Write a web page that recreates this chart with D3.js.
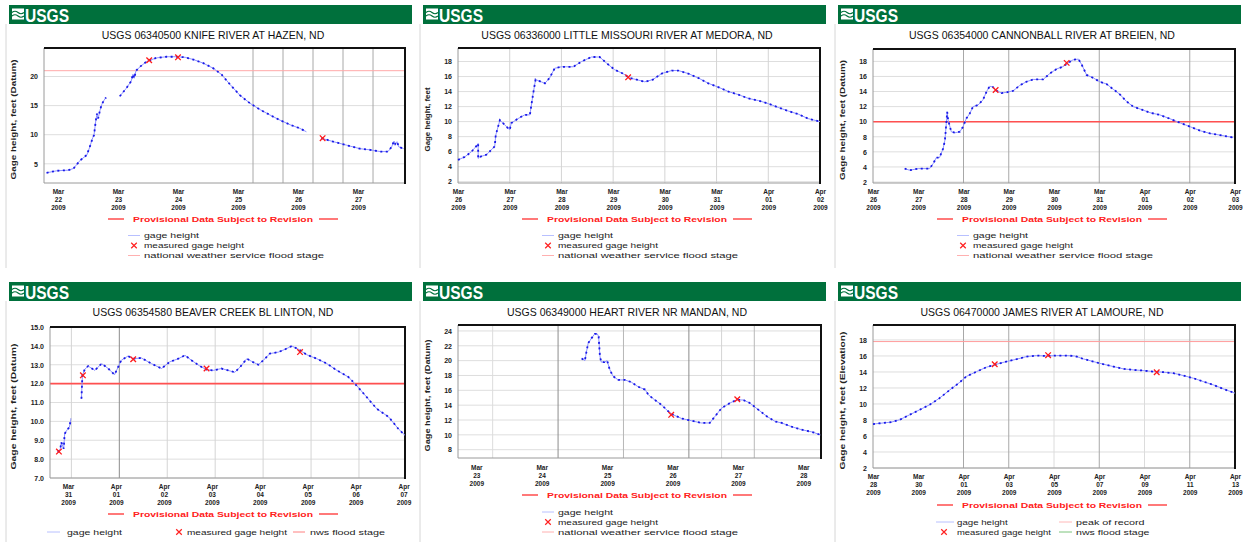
<!DOCTYPE html>
<html>
<head>
<meta charset="utf-8">
<script src="https://cdn.jsdelivr.net/npm/d3@7"></script>
<style>
  body { margin: 0; background: #fff; }
  svg { display: block; font-family: "Liberation Sans", Arial, sans-serif; }
</style>
</head>
<body>
<svg id="chart" width="1243" height="542"></svg>
<script>
// ---- data (x in tick intervals from the first date label, y in feet) ----
const knifeTicks = ["Mar 22 2009", "Mar 23 2009", "Mar 24 2009", "Mar 25 2009", "Mar 26 2009", "Mar 27 2009"];
const knifeGage = [[-0.19, 3.45], [-0.02, 3.8], [0.17, 3.9], [0.26, 4.2], [0.37, 5.6], [0.48, 6.5], [0.53, 7.9],
  [0.58, 9.5], [0.6, 9.9], [0.63, 12.4], [0.65, 13.6], [0.67, 12.8], [0.7, 14.2], [0.73, 15.2], [0.76, 15.8], [0.8, 16.4],
  null,
  [1.03, 16.6], [1.14, 18.0], [1.22, 19.2], [1.25, 20.4], [1.27, 19.7], [1.3, 21.0], [1.37, 21.7], [1.48, 22.6],
  [1.64, 23.2], [1.81, 23.4], [1.98, 23.4], [2.12, 23.3], [2.26, 22.9], [2.42, 22.3], [2.59, 21.4], [2.73, 20.3],
  [2.87, 18.6], [3.03, 16.8], [3.2, 15.4], [3.37, 14.3], [3.53, 13.4], [3.7, 12.5], [3.87, 11.7], [4.03, 11.1], [4.14, 10.5],
  null,
  [4.39, 9.4], [4.59, 8.8], [4.81, 8.2], [5.03, 7.6], [5.2, 7.4], [5.37, 7.1], [5.5, 7.1], [5.56, 7.9], [5.6, 8.9],
  [5.62, 8.4], [5.65, 8.8], [5.68, 7.9], [5.76, 7.6]];
const knifeMeas = [[1.52, 22.8], [2.0, 23.3], [4.41, 9.4]];

const medoraTicks = ["Mar 26 2009", "Mar 27 2009", "Mar 28 2009", "Mar 29 2009", "Mar 30 2009", "Mar 31 2009", "Apr 01 2009", "Apr 02 2009"];
const medoraGage = [[0, 4.9], [0.13, 5.3], [0.26, 6.0], [0.35, 6.7], [0.39, 7.1], [0.39, 5.1], [0.42, 5.3], [0.55, 5.6],
  [0.71, 6.7], [0.73, 8.2], [0.81, 10.2], [0.9, 9.6], [1.0, 8.9], [1.03, 9.8], [1.16, 10.4], [1.29, 10.9], [1.39, 10.9],
  [1.45, 13.6], [1.5, 15.6], [1.61, 15.3], [1.68, 15.1], [1.77, 15.8], [1.87, 17.1], [2.0, 17.3], [2.23, 17.3], [2.39, 18.0],
  [2.58, 18.6], [2.74, 18.6], [2.87, 17.8], [3.03, 16.9], [3.19, 16.4], [3.32, 15.8], [3.45, 15.6], [3.61, 15.3], [3.77, 15.6],
  [3.94, 16.4], [4.13, 16.8], [4.26, 16.8], [4.45, 16.4], [4.65, 15.8], [4.84, 15.1], [5.03, 14.6], [5.23, 14.0], [5.42, 13.6],
  [5.61, 13.1], [5.81, 12.8], [6.0, 12.4], [6.19, 11.9], [6.39, 11.4], [6.58, 11.0], [6.77, 10.4], [7.0, 10.0]];
const medoraMeas = [[3.29, 15.9]];

const cannonTicks = ["Mar 26 2009", "Mar 27 2009", "Mar 28 2009", "Mar 29 2009", "Mar 30 2009", "Mar 31 2009", "Apr 01 2009", "Apr 02 2009", "Apr 03 2009"];
const cannonGage = [[0.7, 3.78], [0.81, 3.56], [1.0, 3.78], [1.25, 3.78], [1.33, 4.44], [1.4, 5.24], [1.47, 5.24], [1.55, 6.44],
  [1.59, 7.56], [1.62, 9.78], [1.64, 11.3], [1.66, 10.2], [1.68, 9.78], [1.73, 8.67], [1.81, 8.53], [1.92, 8.67], [1.99, 9.33],
  [2.06, 10.4], [2.14, 11.1], [2.21, 12.0], [2.32, 12.2], [2.43, 12.9], [2.51, 14.0], [2.58, 14.7], [2.65, 14.6], [2.73, 14.1],
  [2.84, 13.8], [2.95, 13.9], [3.1, 14.1], [3.24, 14.8], [3.39, 15.3], [3.54, 15.6], [3.76, 15.6], [3.91, 16.4], [4.06, 17.0],
  [4.2, 17.3], [4.31, 17.8], [4.42, 18.2], [4.54, 18.3], [4.61, 17.6], [4.72, 16.2], [4.87, 15.8], [5.01, 15.3], [5.16, 15.0],
  [5.31, 14.3], [5.46, 13.6], [5.6, 12.7], [5.75, 12.0], [5.94, 11.6], [6.12, 11.2], [6.34, 10.9], [6.56, 10.4], [6.78, 9.87],
  [7.01, 9.33], [7.23, 8.8], [7.45, 8.44], [7.67, 8.22], [7.96, 7.9]];
const cannonMeas = [[2.71, 14.2], [4.28, 17.8]];

const beaverTicks = ["Mar 31 2009", "Apr 01 2009", "Apr 02 2009", "Apr 03 2009", "Apr 04 2009", "Apr 05 2009", "Apr 06 2009", "Apr 07 2009"];
const beaverGage = [[-0.21, 8.37], [-0.16, 8.55], [-0.14, 8.9], [-0.09, 8.55], [-0.07, 9.35], [-0.01, 9.58], [0.03, 9.7], [0.06, 10.14],
  null,
  [0.28, 11.2], [0.3, 12.44], [0.35, 12.76], [0.42, 12.93], [0.56, 12.7], [0.7, 13.06], [0.84, 12.8], [0.97, 12.47], [1.11, 13.23],
  [1.25, 13.46], [1.36, 13.32], [1.53, 13.36], [1.74, 13.06], [1.95, 12.8], [2.12, 13.15], [2.3, 13.32], [2.44, 13.5], [2.58, 13.23],
  [2.75, 12.93], [2.89, 12.74], [3.03, 12.7], [3.2, 12.8], [3.34, 12.7], [3.48, 12.6], [3.59, 12.88], [3.73, 13.32], [3.83, 13.18],
  [3.97, 13.0], [4.11, 13.32], [4.21, 13.59], [4.39, 13.67], [4.53, 13.82], [4.67, 13.99], [4.81, 13.82], [4.98, 13.53], [5.19, 13.32],
  [5.4, 13.06], [5.61, 12.7], [5.85, 12.35], [6.02, 11.9], [6.23, 11.29], [6.44, 10.67], [6.69, 10.23], [6.89, 9.61], [7.03, 9.26]];
const beaverMeas = [[-0.19, 8.4], [0.31, 12.44], [1.36, 13.29], [2.89, 12.8], [4.84, 13.67]];

const heartTicks = ["Mar 23 2009", "Mar 24 2009", "Mar 25 2009", "Mar 26 2009", "Mar 27 2009", "Mar 28 2009"];
const heartGage = [[1.61, 20.3], [1.66, 20.0], [1.68, 21.0], [1.71, 22.35], [1.73, 22.6], [1.76, 23.0], [1.81, 23.6], [1.85, 23.6],
  [1.87, 23.25], [1.89, 20.6], [1.91, 19.8], [1.96, 19.8], [2.0, 20.0], [2.04, 18.8], [2.09, 17.9], [2.17, 17.4], [2.27, 17.4],
  [2.37, 17.1], [2.47, 16.5], [2.58, 16.1], [2.63, 15.4], [2.73, 14.7], [2.83, 14.05], [2.93, 13.2], [3.01, 12.7], [3.14, 12.2],
  [3.29, 11.9], [3.44, 11.6], [3.57, 11.6], [3.65, 12.5], [3.75, 13.6], [3.88, 14.3], [3.98, 14.7], [4.08, 14.7], [4.18, 14.3],
  [4.31, 13.4], [4.44, 12.5], [4.57, 11.8], [4.67, 11.6], [4.82, 11.1], [4.97, 10.7], [5.13, 10.4], [5.26, 10.0]];
const heartMeas = [[2.98, 12.7], [3.99, 14.8]];

const jamesTicks = ["Mar 28 2009", "Mar 30 2009", "Apr 01 2009", "Apr 03 2009", "Apr 05 2009", "Apr 07 2009", "Apr 09 2009", "Apr 11 2009", "Apr 13 2009"];
const jamesGage = [[0, 7.49], [0.41, 7.74], [0.59, 8.03], [0.81, 8.65], [1.03, 9.27], [1.25, 9.9], [1.47, 10.73], [1.7, 11.77],
  [1.92, 12.72], [2.06, 13.43], [2.29, 14.05], [2.51, 14.6], [2.73, 14.97], [2.95, 15.3], [3.17, 15.59], [3.39, 15.92], [3.61, 16.05],
  [3.83, 16.0], [4.06, 16.05], [4.28, 16.05], [4.46, 16.0], [4.65, 15.63], [4.87, 15.3], [5.09, 14.97], [5.31, 14.68], [5.53, 14.39],
  [5.75, 14.26], [5.97, 14.18], [6.19, 14.05], [6.42, 13.97], [6.64, 13.85], [6.86, 13.55], [7.08, 13.22], [7.3, 12.8], [7.52, 12.39],
  [7.74, 11.89], [8.0, 11.35]];
const jamesMeas = [[2.69, 14.97], [3.87, 16.1], [6.27, 13.97]];

// ---- layout ----
const panels = [
  { x0: 0, y0: 0, title: "USGS 06340500 KNIFE RIVER AT HAZEN, ND", ylab: "Gage height, feet (Datum)", ylabLen: 120,
    ticks: knifeTicks, gage: knifeGage, meas: knifeMeas,
    plot: { l: 44, r: 405, t: 48, b: 183 }, xDom: [-0.233, 5.783], yDom: [1.7, 24.9], yTicks: [5, 10, 15, 20], yFmt: "d",
    vGrid: [[3.25, "#a8a8a8"], [3.75, "#a8a8a8"], [4.25, "#a8a8a8"], [4.75, "#a8a8a8"], [5.25, "#a8a8a8"]],
    hLines: [[21, "#ffa8a8", 1]], xlabY: 192, provY: 219, legend: "stack", legY: 235.5 },
  { x0: 414, y0: 0, title: "USGS 06336000 LITTLE MISSOURI RIVER AT MEDORA, ND", ylab: "Gage height, feet", ylabLen: 64,
    ticks: medoraTicks, gage: medoraGage, meas: medoraMeas,
    plot: { l: 44, r: 406, t: 48, b: 183 }, xDom: [0, 7], yDom: [1.83, 19.8], yTicks: d3.range(2, 19, 2), yFmt: "d",
    vGrid: [1, 2, 3, 4, 5, 6].map(d => [d, "#d4d4d4"]),
    hLines: [], xlabY: 192, provY: 219, legend: "stack", legY: 235.5 },
  { x0: 829, y0: 0, title: "USGS 06354000 CANNONBALL RIVER AT BREIEN, ND", ylab: "Gage height, feet (Datum)", ylabLen: 120,
    ticks: cannonTicks, gage: cannonGage, meas: cannonMeas,
    plot: { l: 44, r: 406, t: 49, b: 183 }, xDom: [0, 8], yDom: [1.87, 19.64], yTicks: d3.range(2, 19, 2), yFmt: "d",
    vGrid: [[2, "#a8a8a8"], [3, "#a8a8a8"], [5, "#a8a8a8"], [7, "#a8a8a8"]],
    hLines: [[10, "#ff5050", 1.6]], xlabY: 192, provY: 219, legend: "stack", legY: 235.5 },
  { x0: 0, y0: 277, title: "USGS 06354580 BEAVER CREEK BL LINTON, ND", ylab: "Gage height, feet (Datum)", ylabLen: 126,
    ticks: beaverTicks, gage: beaverGage, meas: beaverMeas,
    plot: { l: 50, r: 405, t: 50, b: 201 }, xDom: [-0.376, 7.03], yDom: [7, 15], yTicks: d3.range(7, 16, 1), yFmt: ".1f",
    vGrid: [[0.07, "#d4d4d4"], [1.07, "#8c8c8c"], [2.07, "#d4d4d4"], [3.07, "#d4d4d4"], [4.07, "#d4d4d4"], [5.07, "#d4d4d4"], [6.07, "#d4d4d4"]],
    hLines: [[12, "#ff5050", 1.6]], xlabY: 210, provY: 237, legend: "row", legY: 255 },
  { x0: 414, y0: 277, title: "USGS 06349000 HEART RIVER NR MANDAN, ND", ylab: "Gage height, feet (Datum)", ylabLen: 112,
    ticks: heartTicks, gage: heartGage, meas: heartMeas,
    plot: { l: 44, r: 407, t: 48, b: 181 }, xDom: [-0.28, 5.27], yDom: [6.88, 24.8], yTicks: d3.range(8, 25, 2), yFmt: "d",
    vGrid: [[0.25, "#dcdcdc"], [1.25, "#8c8c8c"], [2.25, "#b8b8b8"], [3.25, "#8c8c8c"], [3.75, "#d4d4d4"], [4.25, "#b8b8b8"]],
    hLines: [], xlabY: 191, provY: 218, legend: "stack", legY: 235 },
  { x0: 829, y0: 277, title: "USGS 06470000 JAMES RIVER AT LAMOURE, ND", ylab: "Gage height, feet (Elevation)", ylabLen: 138,
    ticks: jamesTicks, gage: jamesGage, meas: jamesMeas,
    plot: { l: 44, r: 406, t: 48, b: 191 }, xDom: [0, 8], yDom: [2, 19.87], yTicks: d3.range(2, 19, 2), yFmt: "d",
    vGrid: [[2, "#a8a8a8"], [3, "#a8a8a8"], [4, "#dcdcdc"], [5, "#a8a8a8"], [6, "#dcdcdc"], [7, "#a8a8a8"]],
    hLines: [[17.8, "#ff9c9c", 1]], xlabY: 200, provY: 228, legend: "grid", legY: 245 }
];

const svg = d3.select("#chart");
const markSym = d3.symbol().type(d3.symbolTimes || d3.symbolCross).size(22);

function gageSample(g, x1, x2, yy) {
  g.append("line").attr("x1", x1).attr("x2", x2).attr("y1", yy).attr("y2", yy)
    .attr("stroke", "#b8c0ff").attr("stroke-width", 1);
}
function markSample(g, cx, yy) {
  g.append("path").attr("d", markSym).attr("transform", `translate(${cx},${yy})`)
    .attr("fill", "none").attr("stroke", "#ff2020").attr("stroke-width", 1.2);
}
function lineSample(g, x1, x2, yy, col) {
  g.append("line").attr("x1", x1).attr("x2", x2).attr("y1", yy).attr("y2", yy)
    .attr("stroke", col).attr("stroke-width", 1);
}
// legend text is wide and low, so stretch it to a fixed width per character
function legText(g, xx, yy, s, cw = 5) {
  g.append("text").attr("x", xx).attr("y", yy + 2.6).attr("font-size", 7.5).attr("fill", "#222")
    .attr("textLength", s.length * cw).attr("lengthAdjust", "spacingAndGlyphs").text(s);
}

function drawPanel(p) {
  const g = svg.append("g").attr("transform", `translate(${p.x0},${p.y0})`);
  const pl = p.plot;

  // panel edge + green banner
  g.append("line").attr("x1", 6).attr("x2", 6).attr("y1", 24).attr("y2", 268).attr("stroke", "#d6d6d6");
  g.append("rect").attr("x", 9).attr("y", 5).attr("width", 403).attr("height", 19).attr("fill", "#00703c");
  g.append("rect").attr("x", 12).attr("y", 8.5).attr("width", 12).attr("height", 11).attr("fill", "#fff");
  g.append("path").attr("d", "M12,12.5 q3,-2.5 6,0 t6,0 M12,16 q3,-2.5 6,0 t6,0")
    .attr("fill", "none").attr("stroke", "#00703c").attr("stroke-width", 1.2);
  g.append("text").attr("x", 25).attr("y", 21.5).attr("fill", "#fff")
    .attr("font-family", "'Liberation Sans Narrow', 'Arial Narrow', 'Liberation Sans', sans-serif")
    .attr("font-weight", "bold").attr("font-size", 18)
    .attr("textLength", 44).attr("lengthAdjust", "spacingAndGlyphs").text("USGS");

  // title
  g.append("text").attr("x", 213).attr("y", 39).attr("text-anchor", "middle")
    .attr("font-size", 10.5).attr("fill", "#111").text(p.title);

  const x = d3.scaleLinear().domain(p.xDom).range([pl.l, pl.r]);
  const y = d3.scaleLinear().domain(p.yDom).range([pl.b, pl.t]);

  // grid
  g.append("g").selectAll("line").data(p.yTicks).join("line")
    .attr("x1", pl.l).attr("x2", pl.r).attr("y1", d => y(d)).attr("y2", d => y(d))
    .attr("stroke", "#dedede");
  g.append("g").selectAll("line").data(p.vGrid).join("line")
    .attr("x1", d => x(d[0])).attr("x2", d => x(d[0])).attr("y1", pl.t).attr("y2", pl.b)
    .attr("stroke", d => d[1]);

  // flood stage / peak of record
  g.append("g").selectAll("line").data(p.hLines).join("line")
    .attr("x1", pl.l).attr("x2", pl.r).attr("y1", d => y(d[0])).attr("y2", d => y(d[0]))
    .attr("stroke", d => d[1]).attr("stroke-width", d => d[2]);

  // frame
  g.append("line").attr("x1", pl.l).attr("x2", pl.l).attr("y1", pl.t).attr("y2", pl.b).attr("stroke", "#9a9a9a");
  g.append("line").attr("x1", pl.l).attr("x2", pl.r).attr("y1", pl.b).attr("y2", pl.b).attr("stroke", "#9a9a9a");
  g.append("line").attr("x1", pl.l).attr("x2", pl.r + 1).attr("y1", pl.t).attr("y2", pl.t).attr("stroke", "#111").attr("stroke-width", 2);
  g.append("line").attr("x1", pl.r).attr("x2", pl.r).attr("y1", pl.t).attr("y2", pl.b + 1).attr("stroke", "#111").attr("stroke-width", 2);

  // gage height line (thin line with heavier dots on top)
  const line = d3.line().defined(d => d !== null).x(d => x(d[0])).y(d => y(d[1]));
  g.append("path").attr("d", line(p.gage)).attr("fill", "none")
    .attr("stroke", "#8e94ff").attr("stroke-width", 1);
  g.append("path").attr("d", line(p.gage)).attr("fill", "none")
    .attr("stroke", "#1a1ae8").attr("stroke-width", 1.8).attr("stroke-dasharray", "2,3.5");

  // measured gage height
  g.append("g").selectAll("path").data(p.meas).join("path")
    .attr("d", markSym).attr("transform", d => `translate(${x(d[0])},${y(d[1])})`)
    .attr("fill", "none").attr("stroke", "#ff1a1a").attr("stroke-width", 1.3);

  // y axis
  const yAx = g.append("g").attr("transform", `translate(${pl.l},0)`)
    .call(d3.axisLeft(y).tickValues(p.yTicks).tickSize(0).tickPadding(6).tickFormat(d3.format(p.yFmt)));
  yAx.select(".domain").remove();
  yAx.selectAll("text").attr("font-size", 7).attr("font-weight", "bold").attr("fill", "#222")
    .attr("font-family", "'Liberation Sans', Arial, sans-serif");

  // x axis with three-line date labels
  const xAx = g.append("g").attr("transform", `translate(0,${p.xlabY + 2.4})`)
    .call(d3.axisBottom(x).tickValues(d3.range(p.ticks.length)).tickSize(0).tickFormat((d, i) => p.ticks[i]));
  xAx.select(".domain").remove();
  xAx.selectAll(".tick text").each(function (d, i) {
    const t = d3.select(this).text(null).attr("y", 0).attr("dy", null)
      .attr("font-size", 6.5).attr("font-weight", "bold").attr("fill", "#222")
      .attr("font-family", "'Liberation Sans', Arial, sans-serif");
    p.ticks[i].split(" ").forEach((s, k) => t.append("tspan").attr("x", 0).attr("y", k * 7.6).text(s));
  });

  // y axis title
  g.append("text").attr("transform", `translate(16,${(pl.t + pl.b) / 2 + 4}) rotate(-90)`)
    .attr("text-anchor", "middle").attr("font-size", 7.5).attr("font-weight", "bold").attr("fill", "#222")
    .attr("textLength", p.ylabLen).attr("lengthAdjust", "spacingAndGlyphs")
    .text(p.ylab);

  // provisional note
  const c = 223;
  g.append("line").attr("x1", c - 115).attr("x2", c - 99).attr("y1", p.provY).attr("y2", p.provY)
    .attr("stroke", "#ff2020").attr("stroke-width", 1.2);
  g.append("line").attr("x1", c + 96).attr("x2", c + 115).attr("y1", p.provY).attr("y2", p.provY)
    .attr("stroke", "#ff2020").attr("stroke-width", 1.2);
  g.append("text").attr("x", c).attr("y", p.provY + 2.8).attr("text-anchor", "middle")
    .attr("font-size", 8).attr("font-weight", "bold").attr("fill", "#ff2020")
    .attr("textLength", 180).attr("lengthAdjust", "spacingAndGlyphs")
    .text("Provisional Data Subject to Revision");

  // legend
  const ly = p.legY;
  if (p.legend === "stack") {
    gageSample(g, 128, 140, ly);
    legText(g, 144, ly, "gage height");
    markSample(g, 134, ly + 10);
    legText(g, 144, ly + 10, "measured gage height");
    lineSample(g, 128, 140, ly + 20, "#ffb0b0");
    legText(g, 144, ly + 20, "national weather service flood stage");
  } else if (p.legend === "row") {
    gageSample(g, 47, 60, ly);
    legText(g, 67, ly, "gage height");
    markSample(g, 179, ly);
    legText(g, 187, ly, "measured gage height");
    lineSample(g, 293, 305, ly, "#ff8080");
    legText(g, 310, ly, "nws flood stage");
  } else {
    gageSample(g, 107, 125, ly);
    legText(g, 128, ly, "gage height", 4.6);
    markSample(g, 115, ly + 10);
    legText(g, 128, ly + 10, "measured gage height", 4.7);
    lineSample(g, 230, 243, ly, "#ffb8b8");
    legText(g, 247, ly, "peak of record", 4.9);
    lineSample(g, 230, 243, ly + 10, "#7cc47c");
    legText(g, 247, ly + 10, "nws flood stage", 4.9);
  }
}

panels.forEach(drawPanel);
</script>
</body>
</html>
